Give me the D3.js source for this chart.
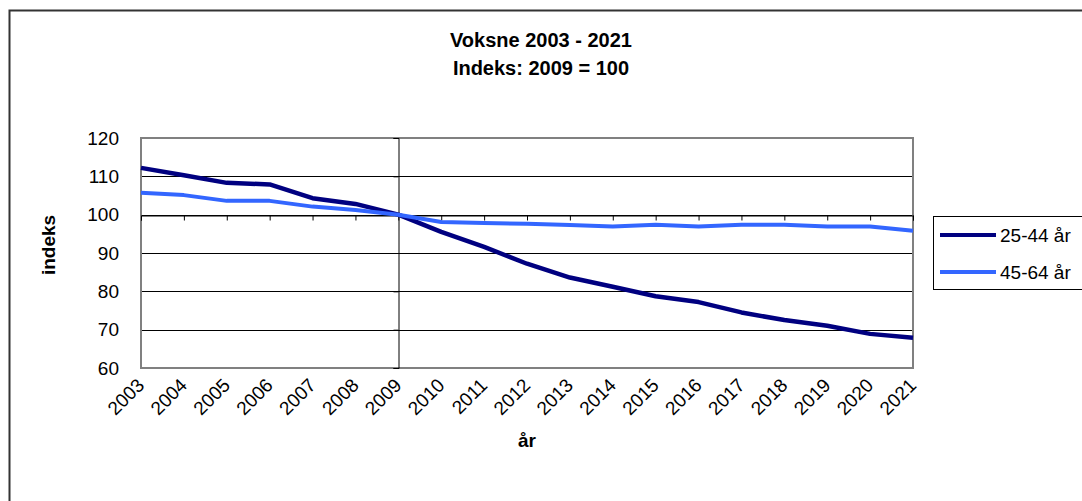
<!DOCTYPE html>
<html>
<head>
<meta charset="utf-8">
<script src="https://cdn.jsdelivr.net/npm/d3@7/dist/d3.min.js"></script>
<style>
  body { margin: 0; background: #fff; }
  svg { display: block; font-family: "Liberation Sans", Arial, sans-serif; }
</style>
</head>
<body>
<svg id="chart" width="1082" height="501"></svg>
<script>
// years on the category axis
const years = ["2003","2004","2005","2006","2007","2008","2009","2010","2011","2012",
               "2013","2014","2015","2016","2017","2018","2019","2020","2021"];
// index values (2009 = 100)
const group2544 = [112.2,110.3,108.3,107.9,104.3,102.8,100,95.5,91.6,87.2,
                   83.6,81.2,78.7,77.2,74.5,72.5,71.0,68.9,67.9];
const group4564 = [105.7,105.1,103.6,103.6,102.1,101.2,100,98.1,97.8,97.6,
                   97.3,96.9,97.4,96.9,97.4,97.4,96.9,96.9,95.8];
const seriesNames = ["25-44 år","45-64 år"];
const yTicks = [60,70,80,90,100,110,120];

const svg = d3.select("#chart");
const m = { left: 141, right: 913, top: 138, bottom: 368 };

//outer chart frame (only top and left show)
svg.append("rect")
  .attr("x", 9.5).attr("y", 10.5)
  .attr("width", 1200).attr("height", 700)
  .attr("fill", "none").attr("stroke", "#333").attr("stroke-width", 2);

// title
svg.append("text").attr("x", 541).attr("y", 47)
  .attr("text-anchor", "middle").attr("font-size", "20px").attr("font-weight", "bold")
  .text("Voksne 2003 - 2021");
svg.append("text").attr("x", 541).attr("y", 75)
  .attr("text-anchor", "middle").attr("font-size", "20px").attr("font-weight", "bold")
  .text("Indeks: 2009 = 100");

// scales
const x = d3.scalePoint().domain(years).range([m.left, m.right]);
const y = d3.scaleLinear().domain([60, 120]).range([m.bottom, m.top]);

// gridlines
svg.append("g")
  .selectAll("line")
  .data(yTicks.filter(v => v > 60 && v < 120))
  .enter().append("line")
    .attr("x1", m.left).attr("x2", m.right)
    .attr("y1", d => Math.round(y(d)) + 0.5).attr("y2", d => Math.round(y(d)) + 0.5)
    .attr("stroke", "#000").attr("stroke-width", 1);

// plot frame
svg.append("rect")
  .attr("x", m.left).attr("y", m.top)
  .attr("width", m.right - m.left).attr("height", m.bottom - m.top)
  .attr("fill", "none").attr("stroke", "#808080").attr("stroke-width", 2);

// value axis crosses at 2009, labels sit low (left)
const yAxisG = svg.append("g")
  .attr("transform", `translate(${Math.round(x("2009")) + 0.5},0)`)
  .call(d3.axisLeft(y).tickValues(yTicks).tickSize(5).tickFormat(""));
yAxisG.select(".domain").attr("stroke", "#000");
yAxisG.selectAll(".tick line").attr("stroke", "#000");

svg.append("g")
  .selectAll("text")
  .data(yTicks)
  .enter().append("text")
    .attr("x", 119).attr("y", d => y(d))
    .attr("dy", "0.35em").attr("text-anchor", "end")
    .attr("font-size", "19px")
    .text(d => d);

// category axis crosses at 100
const xAxisG = svg.append("g")
  .attr("transform", `translate(0,${Math.round(y(100)) + 0.5})`)
  .call(d3.axisBottom(x).tickSize(5).tickFormat(""));
xAxisG.select(".domain").attr("stroke", "#000");
xAxisG.selectAll(".tick line").attr("stroke", "#000");

// rotated year labels at the bottom
svg.append("g")
  .selectAll("text")
  .data(years)
  .enter().append("text")
    .attr("transform", d => `translate(${x(d) - 5},${m.bottom + 9}) rotate(-45)`)
    .attr("text-anchor", "end")
    .attr("dy", "0.7em")
    .attr("font-size", "19px")
    .text(d => d);

// axis titles
svg.append("text")
  .attr("transform", "translate(55,245) rotate(-90)")
  .attr("text-anchor", "middle").attr("font-size", "19px").attr("font-weight", "bold")
  .text("indeks");
svg.append("text")
  .attr("x", (m.left + m.right) / 2).attr("y", 447)
  .attr("text-anchor", "middle").attr("font-size", "19px").attr("font-weight", "bold")
  .text("år");

// lines
const colors = ["#000080", "#3366ff"];
const line = d3.line().x((d, i) => x(years[i])).y(d => y(d));
[group2544, group4564].forEach((vals, k) => {
  svg.append("path")
    .datum(vals)
    .attr("d", line)
    .attr("fill", "none")
    .attr("stroke", colors[k])
    .attr("stroke-width", k === 0 ? 4.5 : 4)
    .attr("stroke-linejoin", "round");
});

// legend
const lg = svg.append("g");
lg.append("rect")
  .attr("x", 933.5).attr("y", 216.5).attr("width", 160).attr("height", 73)
  .attr("fill", "#fff").attr("stroke", "#000").attr("stroke-width", 1);
seriesNames.forEach((name, k) => {
  const ly = 235 + k * 37;
  lg.append("line")
    .attr("x1", 940).attr("x2", 996).attr("y1", ly).attr("y2", ly)
    .attr("stroke", colors[k]).attr("stroke-width", 4);
  lg.append("text")
    .attr("x", 1000).attr("y", ly).attr("dy", "0.35em")
    .attr("font-size", "19px")
    .text(name);
});
</script>
</body>
</html>
